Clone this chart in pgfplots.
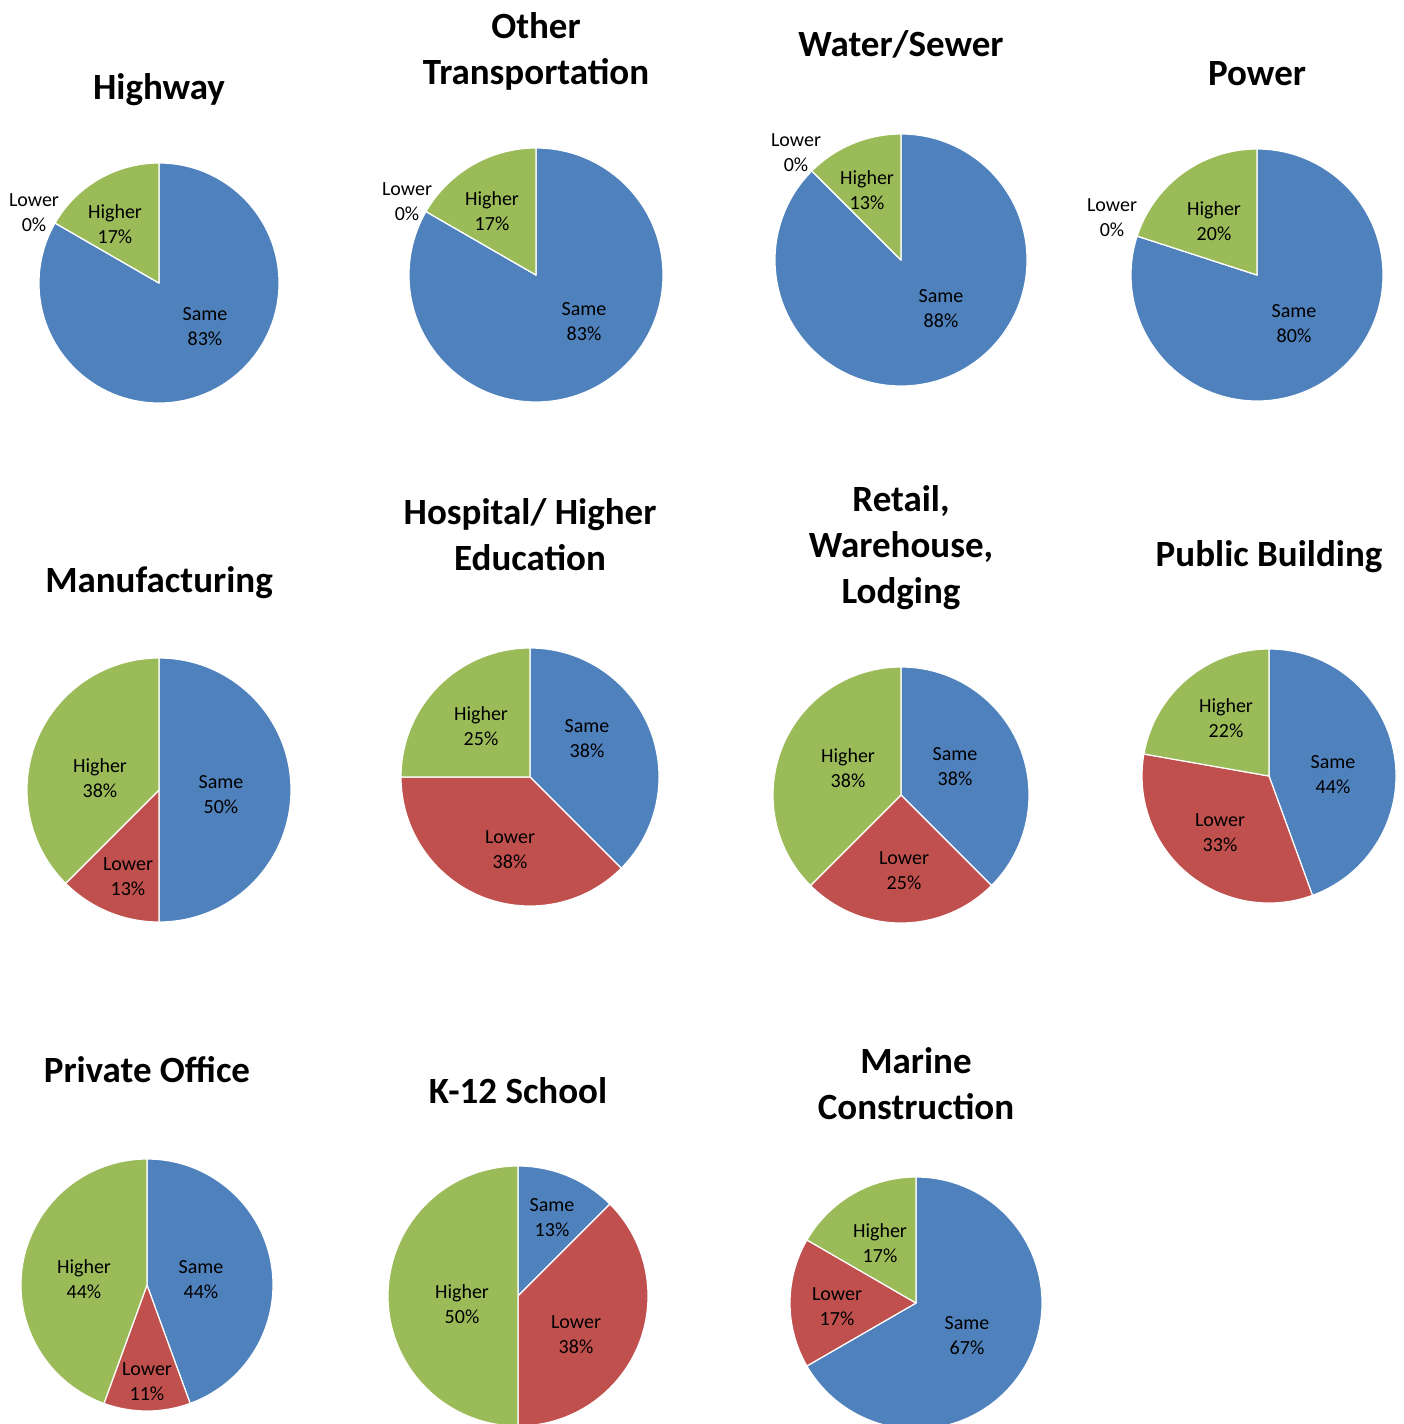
\documentclass[border=0pt]{standalone}
\usepackage{fontspec}
\setmainfont{Carlito}
\usepackage{pgfplots}
\pgfplotsset{compat=1.18}
\definecolor{cSame}{HTML}{4F81BD}
\definecolor{cLower}{HTML}{C0504D}
\definecolor{cHigher}{HTML}{9BBB59}
% one slice: centre x, centre y (pixels), radius (pixels), start angle, end angle, colour
\newcommand{\slice}[6]{%
  \fill[#6, draw=white, line width=0.6pt, line join=round] (axis cs:#1,#2) -- ++({#4}:{#3*0.5pt})
    arc[start angle={#4}, end angle={#5}, radius={#3*0.5pt}] -- cycle;}
% one pie: cx, cy, r, Same, Lower, Higher (percent), clockwise from 12 o'clock
\newcommand{\pie}[6]{%
  \slice{#1}{#2}{#3}{90}{90-3.6*#4}{cSame}
  \slice{#1}{#2}{#3}{90-3.6*#4}{90-3.6*(#4+#5)}{cLower}
  \slice{#1}{#2}{#3}{90-3.6*(#4+#5)}{90-3.6*(#4+#5+#6)}{cHigher}}
\newcommand{\lab}[3]{\node[font=\fontsize{10}{12.5}\selectfont, align=center, text=black, inner sep=0pt, yshift=-1pt] at (axis cs:#1,#2) {#3};}
\newcommand{\ttl}[3]{\node[font=\bfseries\fontsize{18.5}{23}\selectfont, align=center, text=black, inner sep=0pt, yshift=-1.5pt] at (axis cs:#1,#2) {#3};}
\begin{document}
\begin{tikzpicture}
\begin{axis}[name=ax, hide axis, x=0.5pt, y=0.5pt, xmin=0, xmax=1403, ymin=0, ymax=1424, y dir=reverse]
% ---- row 1
\pie{159}{283}{120}{83.33}{0}{16.67}
\pie{536}{275}{127}{83.33}{0}{16.67}
\pie{901}{260}{126}{87.5}{0}{12.5}
\pie{1257}{275}{126}{80}{0}{20}
% ---- row 2
\pie{159}{790}{132}{50}{12.5}{37.5}
\pie{530}{777}{129}{37.5}{37.5}{25}
\pie{901}{795}{128}{37.5}{25}{37.5}
\pie{1269}{776}{127}{44.44}{33.33}{22.22}
% ---- row 3
\pie{147}{1285}{126}{44.44}{11.11}{44.44}
\pie{518}{1296}{130}{12.5}{37.5}{50}
\pie{916}{1303}{126}{66.67}{16.67}{16.67}
% ---- titles
\ttl{159}{87}{Highway}
\ttl{536}{48}{Other\\Transportation}
\ttl{901}{41}{Water/Sewer}
\ttl{1257}{71}{Power}
\ttl{159}{580}{Manufacturing}
\ttl{530}{532}{Hospital/ Higher\\Education}
\ttl{901}{545}{Retail,\\Warehouse,\\Lodging}
\ttl{1269}{554}{Public Building}
\ttl{147}{1067}{Private Office}
\ttl{518}{1088}{K-12 School}
\ttl{916}{1081}{Marine\\Construction}
% ---- data labels
\lab{34}{211}{Lower\\0\%}
\lab{115}{222}{Higher\\17\%}
\lab{205}{325}{Same\\83\%}
\lab{407}{200}{Lower\\0\%}
\lab{492}{209}{Higher\\17\%}
\lab{584}{320}{Same\\83\%}
\lab{796}{151}{Lower\\0\%}
\lab{867}{188}{Higher\\13\%}
\lab{941}{307}{Same\\88\%}
\lab{1112}{216}{Lower\\0\%}
\lab{1214}{219}{Higher\\20\%}
\lab{1294}{322}{Same\\80\%}
\lab{100}{776}{Higher\\38\%}
\lab{221}{793}{Same\\50\%}
\lab{128}{875}{Lower\\13\%}
\lab{481}{724}{Higher\\25\%}
\lab{587}{737}{Same\\38\%}
\lab{510}{848}{Lower\\38\%}
\lab{848}{766}{Higher\\38\%}
\lab{955}{765}{Same\\38\%}
\lab{904}{869}{Lower\\25\%}
\lab{1226}{716}{Higher\\22\%}
\lab{1333}{773}{Same\\44\%}
\lab{1220}{831}{Lower\\33\%}
\lab{84}{1277}{Higher\\44\%}
\lab{201}{1278}{Same\\44\%}
\lab{147}{1380}{Lower\\11\%}
\lab{552}{1216}{Same\\13\%}
\lab{462}{1302}{Higher\\50\%}
\lab{576}{1333}{Lower\\38\%}
\lab{880}{1241}{Higher\\17\%}
\lab{837}{1305}{Lower\\17\%}
\lab{967}{1334}{Same\\67\%}
\end{axis}
\pgfresetboundingbox
\path[use as bounding box] (ax.south west) rectangle (ax.north east);
\end{tikzpicture}
\end{document}
